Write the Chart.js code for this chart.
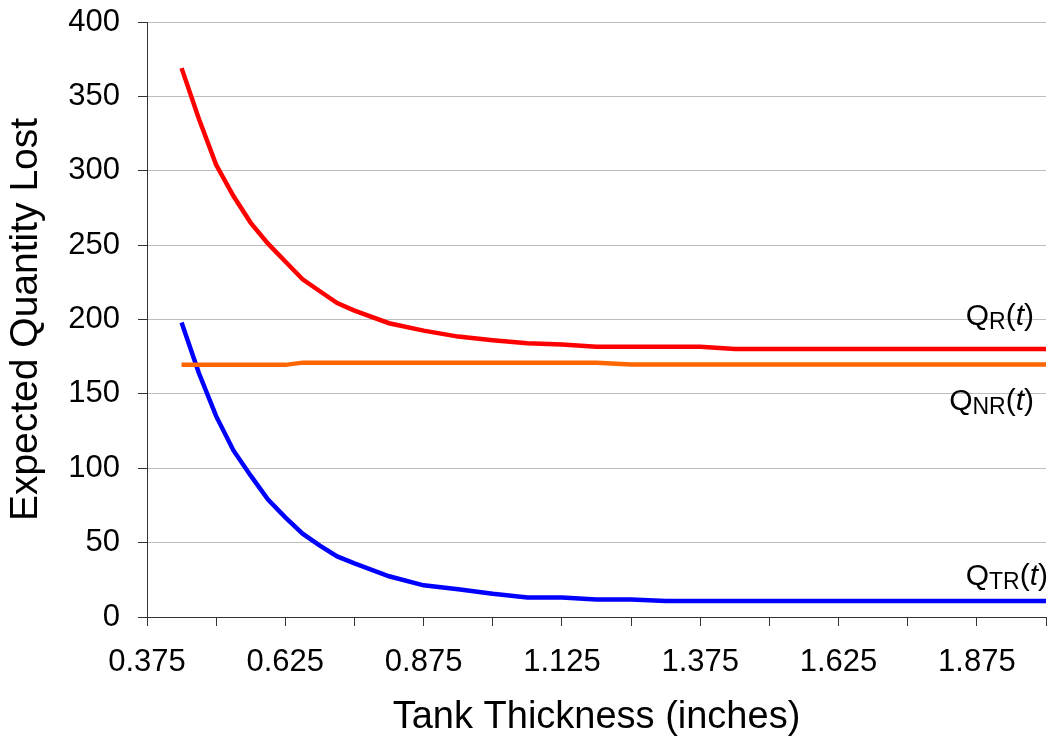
<!DOCTYPE html>
<html>
<head>
<meta charset="utf-8">
<script src="https://cdn.jsdelivr.net/npm/chart.js@4/dist/chart.umd.min.js"></script>
<style>
  html, body { margin: 0; padding: 0; background: #fff; }
  #wrap { width: 1051px; height: 740px; }
</style>
</head>
<body>
<div id="wrap"><canvas id="lossChart" width="1051" height="740"></canvas></div>
<script>
const thickness = [0.4375, 0.46875, 0.5, 0.53125, 0.5625, 0.59375, 0.625, 0.65625, 0.6875, 0.71875, 0.75,
  0.8125, 0.875, 0.9375, 1.0, 1.0625, 1.125, 1.1875, 1.25, 1.3125, 1.375, 1.4375, 1.5, 1.5625, 1.625,
  1.6875, 1.75, 1.8125, 1.875, 1.9375, 2.0];
const qR = [369, 335, 304, 283, 265, 251, 239, 227, 219, 211, 206, 197.5, 192.5, 188.5, 186, 184, 183.2,
  181.7, 181.7, 181.7, 181.7, 180.2, 180.2, 180.2, 180.2, 180.2, 180.2, 180.2, 180.2, 180.2, 180.2];
const qNR = [169.5, 169.5, 169.5, 169.5, 169.5, 169.5, 169.5, 171, 171, 171, 171, 171, 171, 171, 171, 171,
  171, 171, 169.8, 169.8, 169.8, 169.8, 169.8, 169.8, 169.8, 169.8, 169.8, 169.8, 169.8, 169.8, 169.8];
const qTR = [198, 164, 135, 112, 95, 79, 67, 56, 48, 40.7, 36, 27.4, 21.3, 18.7, 15.6, 13.1, 13.1, 11.7,
  11.7, 10.7, 10.7, 10.7, 10.7, 10.7, 10.7, 10.7, 10.7, 10.7, 10.7, 10.7, 10.7];
const xTicks = [0.375, 0.5, 0.625, 0.75, 0.875, 1.0, 1.125, 1.25, 1.375, 1.5, 1.625, 1.75, 1.875, 2.0];
const yTicks = [0, 50, 100, 150, 200, 250, 300, 350, 400];
const seriesSubs = ['R', 'NR', 'TR'];

const FONT = "'Liberation Sans', Arial, sans-serif";
const toPoints = vals => vals.map((v, i) => ({x: thickness[i], y: v}));

// curve names drawn next to the right end of each line
const curveLabels = {
  id: 'curveLabels',
  afterDatasetsDraw(chart) {
    const ctx = chart.ctx;
    const y = chart.scales.y;
    const spots = [
      {sub: seriesSubs[0], right: 1034, val: 196.3},
      {sub: seriesSubs[1], right: 1034, val: 139},
      {sub: seriesSubs[2], right: 1048, val: 21.3}
    ];
    ctx.save();
    ctx.fillStyle = '#000';
    ctx.textBaseline = 'alphabetic';
    spots.forEach(s => {
      const base = y.getPixelForValue(s.val);
      const parts = [
        {t: 'Q', f: '30px ' + FONT, dy: 0},
        {t: s.sub, f: '23px ' + FONT, dy: 4},
        {t: '(', f: '30px ' + FONT, dy: 0},
        {t: 't', f: 'italic 30px ' + FONT, dy: 0},
        {t: ')', f: '30px ' + FONT, dy: 0}
      ];
      let w = 0;
      parts.forEach(p => { ctx.font = p.f; p.w = ctx.measureText(p.t).width; w += p.w; });
      let x = s.right - w;
      parts.forEach(p => {
        ctx.font = p.f;
        ctx.fillText(p.t, x, base + p.dy);
        x += p.w;
      });
    });
    ctx.restore();
  }
};

const ctx = document.getElementById('lossChart').getContext('2d');
const lossChart = new Chart(ctx, {
  type: 'line',
  data: {
    datasets: [
      {label: 'QR(t)', data: toPoints(qR), borderColor: '#ff0000'},
      {label: 'QNR(t)', data: toPoints(qNR), borderColor: '#ff6600'},
      {label: 'QTR(t)', data: toPoints(qTR), borderColor: '#0000ff'}
    ]
  },
  options: {
    responsive: false,
    animation: false,
    layout: {padding: {top: 22, right: 5, left: 0, bottom: 0}},
    elements: {
      line: {borderWidth: 4.5, tension: 0, borderCapStyle: 'butt'},
      point: {radius: 0, hoverRadius: 0}
    },
    plugins: {legend: {display: false}, tooltip: {enabled: false}},
    scales: {
      x: {
        type: 'linear',
        min: 0.375,
        max: 2.0,
        afterBuildTicks: s => { s.ticks = xTicks.map(v => ({value: v})); },
        afterFit: s => { s.height = 123; s.paddingLeft = 0; s.paddingRight = 0; },
        grid: {drawOnChartArea: false, tickLength: 9, tickColor: '#333', lineWidth: 1},
        border: {color: '#333', width: 1},
        ticks: {
          color: '#000',
          font: {family: FONT, size: 31},
          padding: 18,
          maxRotation: 0,
          autoSkip: false,
          callback: (v, i) => (i % 2 === 0 && v < 2 ? v.toFixed(3) : '')
        },
        title: {
          display: true,
          text: 'Tank Thickness (inches)',
          color: '#000',
          font: {family: FONT, size: 38},
          padding: {top: 0, bottom: 0}
        }
      },
      y: {
        min: 0,
        max: 400,
        afterBuildTicks: s => { s.ticks = yTicks.map(v => ({value: v})); },
        afterFit: s => { s.width = 147; s.paddingTop = 0; s.paddingBottom = 0; },
        grid: {color: '#bdbdbd', tickColor: '#333', tickLength: 9, lineWidth: 1},
        border: {color: '#333', width: 1},
        ticks: {color: '#000', font: {family: FONT, size: 31}, padding: 18},
        title: {
          display: true,
          text: 'Expected Quantity Lost',
          color: '#000',
          font: {family: FONT, size: 39},
          padding: {top: 3, bottom: 0}
        }
      }
    }
  },
  plugins: [curveLabels]
});
</script>
</body>
</html>
